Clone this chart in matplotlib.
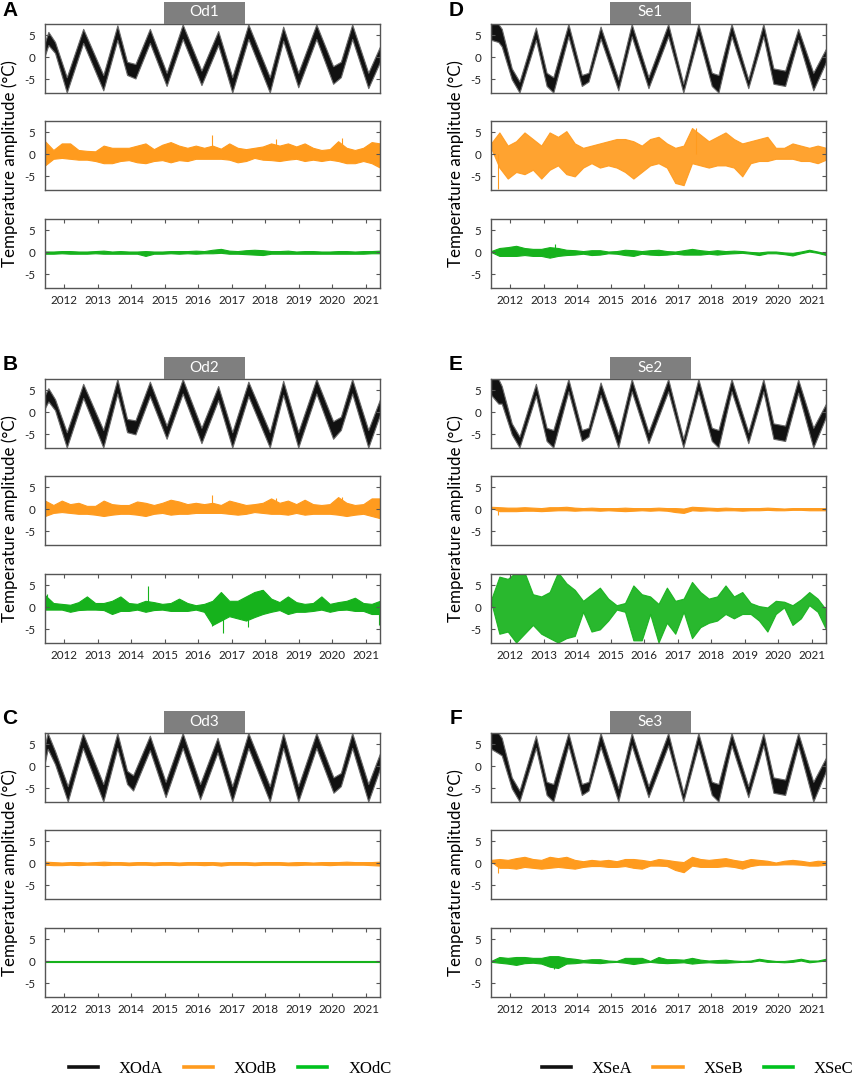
import numpy as np
import matplotlib.pyplot as plt
from matplotlib.lines import Line2D
from matplotlib.patches import Rectangle

plt.rcParams['font.family'] = ['Lato', 'DejaVu Sans']
plt.rcParams['axes.unicode_minus'] = False

BLACK = '#111111'
ORANGE = '#ff9b1e'
GREEN = '#16b21c'

years = [2012, 2013, 2014, 2015, 2016, 2017, 2018, 2019, 2020, 2021]
yticks = [-5, 0, 5]
# quarterly sample positions (decimal years) for the noisy series
t_q = np.round(2011.42 + 0.25 * np.arange(41), 2)

# ---- black series (sensor A): envelope at turning points ----
od_t1 = [2011.42, 2011.52, 2011.72, 2012.07, 2012.56, 2013.16, 2013.58, 2013.87, 2014.12, 2014.55, 2015.05, 2015.53,
         2016.09, 2016.59, 2017.01, 2017.49, 2018.13, 2018.53, 2018.98, 2019.52, 2020.02, 2020.25, 2020.59, 2021.07, 2021.42]
od1_a_hi = [3.5, 5.8, 3.5, -4.5, 6.5, -4.0, 7.3, -1.0, -1.5, 6.5, -3.5, 7.5, -3.0, 6.0, -4.5, 7.5, -4.5, 7.0, -3.5, 7.5, -2.0, -1.0, 7.5, -3.5, 2.5]
od1_a_lo = [0.5, 2.8, 1.0, -8.0, 3.3, -7.5, 4.0, -4.0, -4.8, 3.3, -6.5, 4.2, -6.3, 2.8, -8.0, 4.2, -8.0, 3.8, -6.8, 4.2, -6.0, -4.5, 4.2, -7.0, -1.0]
od2_a_hi = [4.0, 5.5, 3.0, -4.5, 6.5, -4.0, 7.6, -1.5, -1.8, 7.0, -3.0, 7.6, -3.5, 6.0, -4.5, 7.0, -4.5, 7.2, -4.5, 7.6, -2.0, -1.0, 7.6, -4.0, 3.0]
od2_a_lo = [1.0, 2.5, 0.5, -8.0, 3.3, -8.0, 4.3, -4.5, -5.0, 3.7, -6.0, 4.3, -7.0, 2.8, -8.0, 3.7, -8.0, 4.0, -8.0, 4.3, -6.0, -4.0, 4.3, -8.0, -0.5]
od_t3 = [2011.42, 2011.50, 2011.72, 2012.10, 2012.55, 2013.16, 2013.58, 2013.87, 2014.05, 2014.55, 2015.02, 2015.53,
         2016.05, 2016.57, 2017.01, 2017.49, 2018.13, 2018.53, 2018.98, 2019.52, 2020.03, 2020.25, 2020.59, 2021.07, 2021.42]
od3_a_hi = [5.0, 7.6, 3.5, -4.5, 7.6, -4.0, 7.6, -1.0, -2.0, 7.0, -3.5, 7.6, -4.0, 6.5, -4.5, 7.6, -4.5, 7.6, -4.5, 7.6, -2.5, -1.5, 7.6, -4.0, 3.0]
od3_a_lo = [1.0, 4.0, 0.5, -8.0, 4.2, -8.0, 4.2, -4.0, -5.5, 3.7, -7.0, 4.2, -7.5, 3.2, -8.0, 4.2, -8.0, 4.2, -8.0, 4.2, -6.0, -4.5, 4.2, -8.0, -0.5]

se_t = [2011.42, 2011.64, 2011.74, 2012.04, 2012.27, 2012.76, 2013.08, 2013.28, 2013.73, 2014.13, 2014.33, 2014.69, 2015.22, 2015.62,
        2016.12, 2016.71, 2017.16, 2017.61, 2018.01, 2018.21, 2018.60, 2019.10, 2019.55, 2019.85, 2020.20, 2020.59, 2021.04, 2021.42]
se1_a_hi = [7.6, 7.6, 6.5, -2.5, -5.5, 6.8, -3.5, -4.5, 7.6, -4.0, -3.5, 7.0, -5.0, 7.6, -4.5, 7.6, -6.0, 7.6, -3.5, -4.0, 7.6, -5.0, 7.6, -2.5, -3.0, 6.5, -3.5, 2.0]
se1_a_lo = [4.0, 3.5, 2.5, -5.0, -8.0, 4.0, -6.5, -8.0, 4.8, -6.5, -5.5, 4.3, -7.5, 4.8, -7.0, 4.8, -8.0, 4.8, -6.5, -8.0, 4.8, -7.0, 4.8, -6.0, -6.5, 4.0, -7.5, -1.0]
se2_a_hi = [7.6, 7.6, 6.0, -2.5, -5.5, 6.5, -3.5, -4.0, 7.6, -4.0, -3.5, 6.8, -5.0, 7.6, -4.5, 7.6, -6.0, 7.6, -3.5, -4.0, 7.6, -4.5, 7.6, -2.5, -3.0, 7.5, -3.5, 2.0]
se2_a_lo = [4.0, 2.0, 2.0, -5.0, -8.0, 3.8, -6.5, -8.0, 4.8, -6.5, -5.5, 4.0, -8.0, 4.8, -7.0, 4.8, -8.0, 4.8, -6.5, -8.0, 4.8, -7.0, 4.8, -6.0, -6.5, 4.5, -8.0, -1.0]
se3_a_hi = [7.6, 7.6, 6.5, -2.5, -5.5, 7.0, -3.5, -4.0, 7.6, -4.0, -3.5, 7.6, -5.0, 7.6, -4.5, 7.6, -6.0, 7.6, -3.5, -4.0, 7.6, -4.5, 7.6, -2.5, -3.0, 7.6, -3.5, 2.0]
se3_a_lo = [4.0, 3.0, 2.5, -5.0, -8.0, 4.2, -6.5, -8.0, 4.8, -6.5, -5.5, 4.5, -8.0, 4.8, -7.0, 4.8, -8.0, 4.8, -6.5, -8.0, 4.8, -7.0, 4.8, -6.0, -6.5, 4.8, -8.0, -1.0]

# ---- orange series (sensor B), quarterly envelope ----
od1_b_hi = [3.0, 1.0, 2.5, 2.5, 1.0, 0.8, 0.7, 2.0, 1.5, 1.5, 1.5, 2.0, 2.5, 1.2, 2.2, 2.8, 2.0, 1.5, 2.0, 1.5, 2.0,
            1.3, 2.5, 1.5, 1.2, 1.5, 1.8, 2.5, 2.0, 2.5, 1.8, 2.5, 1.5, 1.0, 1.2, 3.0, 1.5, 1.0, 1.5, 2.8, 2.5]
od1_b_lo = [-2.5, -1.0, -0.8, -1.0, -1.2, -1.2, -1.5, -2.0, -2.0, -1.5, -1.3, -1.8, -2.0, -1.5, -1.3, -1.8, -1.3, -1.5, -1.0, -1.0, -1.0,
            -1.0, -1.2, -1.8, -1.5, -0.8, -1.2, -1.3, -1.5, -1.2, -1.0, -1.5, -1.2, -1.5, -1.2, -1.5, -2.0, -2.0, -1.5, -2.0, -3.0]
od2_b_hi = [2.0, 1.0, 2.0, 1.2, 1.5, 0.8, 0.8, 2.0, 1.2, 1.0, 1.0, 1.8, 1.5, 1.0, 1.5, 2.2, 1.8, 1.2, 1.5, 1.2, 1.5,
            1.0, 2.0, 1.5, 1.0, 1.2, 1.5, 2.5, 1.5, 2.0, 1.2, 2.2, 1.2, 1.0, 1.2, 2.8, 1.5, 1.0, 1.2, 2.5, 2.5]
od2_b_lo = [-1.5, -0.8, -0.6, -0.8, -1.0, -1.0, -1.2, -1.5, -1.2, -1.0, -1.0, -1.2, -1.5, -1.0, -0.8, -1.2, -1.0, -1.0, -0.8, -0.8, -0.8,
            -0.8, -1.0, -1.2, -1.0, -0.6, -0.8, -1.0, -1.0, -1.2, -0.8, -1.2, -1.0, -1.0, -1.0, -1.2, -1.5, -1.2, -1.0, -1.5, -2.0]
od3_b_hi = [0.4, 0.3, 0.2, 0.3, 0.3, 0.2, 0.3, 0.4, 0.3, 0.3, 0.2, 0.3, 0.3, 0.2, 0.3, 0.3, 0.2, 0.3, 0.3, 0.3, 0.3,
            0.2, 0.3, 0.3, 0.3, 0.2, 0.3, 0.3, 0.3, 0.2, 0.3, 0.3, 0.2, 0.3, 0.3, 0.3, 0.4, 0.3, 0.3, 0.3, 0.4]
od3_b_lo = [-0.3, -0.4, -0.4, -0.3, -0.4, -0.3, -0.3, -0.4, -0.3, -0.3, -0.4, -0.3, -0.3, -0.4, -0.3, -0.3, -0.4, -0.3, -0.3, -0.4, -0.3,
            -0.5, -0.3, -0.3, -0.3, -0.4, -0.3, -0.3, -0.3, -0.4, -0.4, -0.3, -0.3, -0.3, -0.4, -0.3, -0.3, -0.3, -0.3, -0.4, -0.5]
se1_b_hi = [2.5, 5.0, 2.0, 3.0, 5.0, 3.5, 2.0, 5.0, 4.0, 5.3, 2.5, 1.5, 2.0, 2.5, 3.0, 3.5, 3.5, 3.0, 2.0, 3.5, 4.0,
            2.5, 1.5, 2.0, 6.0, 4.5, 3.0, 4.0, 5.0, 3.5, 2.5, 3.0, 3.5, 4.0, 1.5, 1.5, 2.5, 2.0, 1.5, 2.0, 1.5]
se1_b_lo = [1.5, -3.0, -5.5, -4.0, -4.5, -3.5, -5.5, -3.5, -2.5, -4.5, -5.0, -3.0, -2.0, -3.0, -2.5, -3.0, -4.0, -5.5, -4.0, -2.5, -2.0,
            -3.0, -6.5, -7.0, -2.0, -2.5, -3.0, -2.5, -2.5, -3.0, -5.0, -2.0, -1.5, -1.5, -1.0, -1.0, -1.0, -1.5, -1.5, -2.0, -1.2]
se2_b_hi = [0.6, 0.5, 0.4, 0.4, 0.5, 0.4, 0.3, 0.5, 0.5, 0.6, 0.4, 0.3, 0.4, 0.3, 0.3, 0.3, 0.4, 0.3, 0.3, 0.3, 0.4,
            0.3, 0.3, 0.2, 0.6, 0.5, 0.4, 0.3, 0.4, 0.3, 0.3, 0.3, 0.3, 0.4, 0.3, 0.2, 0.3, 0.3, 0.3, 0.3, 0.3]
se2_b_lo = [0.4, -0.4, -0.4, -0.4, -0.3, -0.3, -0.4, -0.3, -0.2, -0.2, -0.3, -0.2, -0.2, -0.3, -0.2, -0.3, -0.4, -0.3, -0.2, -0.3, -0.2,
            -0.3, -0.6, -0.8, -0.2, -0.3, -0.2, -0.3, -0.2, -0.2, -0.3, -0.2, -0.2, -0.1, -0.2, -0.2, -0.1, -0.1, -0.2, -0.2, -0.2]
se3_b_hi = [0.8, 1.0, 0.8, 1.2, 1.5, 1.0, 0.8, 1.5, 1.2, 1.5, 0.8, 0.5, 0.8, 0.6, 0.8, 0.5, 1.0, 1.0, 0.8, 0.5, 1.0,
            0.8, 0.5, 0.3, 1.5, 1.0, 0.8, 1.0, 1.2, 0.8, 0.5, 1.0, 0.8, 0.6, 0.2, 0.6, 0.8, 0.6, 0.3, 0.6, 0.5]
se3_b_lo = [0.4, -1.0, -1.0, -1.2, -0.8, -1.0, -1.2, -1.0, -0.8, -1.0, -1.2, -0.8, -0.6, -0.6, -0.8, -0.8, -0.6, -1.0, -1.2, -0.5, -0.5,
            -0.6, -1.5, -2.0, -0.5, -0.8, -0.8, -0.8, -0.6, -0.8, -1.2, -0.6, -0.3, -0.3, -0.3, -0.2, -0.2, -0.3, -0.5, -0.5, -0.3]

# ---- green series (sensor C), quarterly envelope ----
od1_c_hi = [0.2, 0.2, 0.3, 0.3, 0.2, 0.2, 0.3, 0.4, 0.2, 0.3, 0.2, 0.2, 0.3, 0.2, 0.2, 0.3, 0.3, 0.3, 0.4, 0.3, 0.6,
            0.8, 0.4, 0.3, 0.5, 0.6, 0.5, 0.3, 0.3, 0.4, 0.2, 0.3, 0.3, 0.2, 0.2, 0.3, 0.3, 0.2, 0.3, 0.3, 0.4]
od1_c_lo = [-0.3, -0.3, -0.2, -0.3, -0.3, -0.3, -0.2, -0.3, -0.3, -0.3, -0.3, -0.3, -0.8, -0.3, -0.3, -0.2, -0.3, -0.2, -0.3, -0.2, -0.2,
            -0.1, -0.3, -0.3, -0.4, -0.5, -0.6, -0.3, -0.3, -0.3, -0.3, -0.3, -0.3, -0.3, -0.3, -0.3, -0.3, -0.3, -0.3, -0.2, -0.2]
od2_c_hi = [2.8, 1.0, 0.8, 0.6, 1.2, 2.5, 1.0, 1.0, 1.5, 2.5, 1.0, 0.8, 1.5, 1.2, 0.8, 1.0, 2.0, 1.0, 0.5, 0.8, 1.5,
            3.5, 1.5, 1.5, 2.5, 3.5, 4.0, 2.0, 1.2, 2.5, 1.2, 0.8, 1.0, 2.5, 0.8, 1.2, 1.5, 2.2, 1.0, 0.8, 1.5]
od2_c_lo = [-0.5, -0.5, -0.5, -1.0, -0.6, -0.5, -0.5, -0.6, -1.5, -0.8, -0.8, -0.5, -1.0, -0.6, -0.5, -0.8, -0.8, -0.8, -0.5, -1.0, -4.0,
            -3.0, -2.0, -2.5, -3.0, -2.2, -1.5, -1.0, -0.6, -1.5, -1.0, -1.0, -0.8, -0.5, -1.0, -0.6, -0.5, -0.8, -0.8, -1.5, -1.5]
od3_c_hi = [0.1, 0.1, 0.1, 0.1, 0.1, 0.1, 0.1, 0.1, 0.1, 0.1, 0.1, 0.1, 0.1, 0.1, 0.1, 0.1, 0.1, 0.1, 0.1, 0.1, 0.1,
            0.1, 0.1, 0.1, 0.1, 0.1, 0.1, 0.1, 0.1, 0.1, 0.1, 0.1, 0.1, 0.1, 0.1, 0.1, 0.1, 0.1, 0.1, 0.1, 0.1]
od3_c_lo = [-0.1, -0.1, -0.1, -0.1, -0.1, -0.1, -0.1, -0.1, -0.1, -0.1, -0.1, -0.1, -0.1, -0.1, -0.1, -0.1, -0.1, -0.1, -0.1, -0.1, -0.1,
            -0.1, -0.1, -0.1, -0.1, -0.1, -0.1, -0.1, -0.1, -0.1, -0.1, -0.1, -0.1, -0.1, -0.1, -0.1, -0.1, -0.1, -0.1, -0.1, -0.1]
se1_c_hi = [0.3, 1.0, 1.2, 1.5, 1.0, 0.8, 0.8, 1.2, 1.0, 0.6, 0.5, 0.3, 0.5, 0.5, 0.2, 0.3, 0.6, 0.5, 0.3, 0.5, 0.6,
            0.3, 0.2, 0.5, 0.8, 0.5, 0.3, 0.5, 0.3, 0.4, 0.3, 0.1, 0.0, 0.2, 0.2, 0.0, -0.1, 0.2, 0.6, 0.2, -0.2]
se1_c_lo = [0.1, -0.8, -0.8, -0.8, -0.6, -0.8, -0.8, -1.2, -0.8, -0.6, -0.5, -0.3, -0.6, -0.5, -0.2, -0.3, -0.6, -0.8, -0.3, -0.5, -0.6,
            -0.5, -0.3, -0.5, -0.5, -0.5, -0.3, -0.5, -0.3, -0.2, -0.1, -0.3, -0.6, -0.2, -0.2, -0.4, -0.7, -0.2, 0.2, -0.1, -0.6]
se2_c_hi = [1.7, 7.0, 6.5, 8.0, 8.0, 3.0, 2.5, 3.5, 8.0, 5.5, 4.0, 1.5, 3.0, 4.5, 2.0, 0.5, 1.0, 5.0, 3.0, 2.5, 0.8,
            4.5, 1.5, 2.0, 5.8, 3.5, 2.0, 2.5, 5.0, 2.5, 3.5, 1.0, 0.3, 0.0, 1.5, 1.3, 0.5, 1.8, 3.5, 2.0, -0.5]
se2_c_lo = [1.3, -6.0, -5.5, -8.0, -6.0, -4.0, -6.0, -7.0, -8.0, -7.0, -6.5, -1.0, -5.5, -5.0, -3.0, -0.5, -1.0, -7.5, -7.5, -1.5, -8.0,
            -3.5, -6.0, -1.0, -7.0, -4.5, -3.5, -3.0, -1.5, -2.5, -1.5, -1.5, -3.0, -5.5, -1.5, 0.0, -4.0, -2.5, 0.5, -1.0, -5.0]
se3_c_hi = [0.1, 1.0, 0.8, 1.0, 1.0, 0.8, 0.8, 1.2, 1.2, 0.8, 0.6, 0.3, 0.5, 0.5, 0.2, 0.1, 0.8, 0.8, 0.8, 0.1, 1.0,
            0.5, 0.5, 0.4, 0.8, 0.4, 0.2, 0.3, 0.4, 0.2, 0.1, 0.2, 0.6, 0.3, 0.1, 0.1, 0.3, 0.6, 0.2, 0.2, 0.6]
se3_c_lo = [-0.1, -0.3, -0.5, -0.8, -0.4, -0.3, -0.5, -1.2, -1.5, -0.5, -0.4, -0.2, -0.3, -0.4, -0.2, -0.1, -0.3, -0.6, -0.3, -0.1, -0.3,
            -0.4, -0.3, -0.2, -0.5, -0.3, -0.2, -0.3, -0.3, -0.2, -0.1, -0.1, 0.2, -0.1, -0.1, -0.2, -0.1, 0.2, -0.2, 0.0, 0.2]

# isolated spikes (time, value)
od1_b_spk = [(2016.41, 4.5), (2018.31, 3.6), (2020.29, 3.8)]
od2_b_spk = [(2016.41, 3.3), (2018.31, 2.6), (2020.29, 2.8)]
od2_c_spk = [(2011.47, 3.0), (2014.49, 4.8), (2016.40, -4.2), (2016.72, -5.8), (2017.47, -4.5), (2017.87, 4.0), (2021.40, -4.0)]
se1_b_spk = [(2011.64, -7.8), (2017.55, 6.0)]
se1_c_spk = [(2013.33, 2.0)]
se2_b_spk = [(2011.64, -1.2)]
se3_b_spk = [(2011.64, -2.2)]
se3_c_spk = [(2013.30, -1.8)]

# letter, title, column, row, A, B (+alpha), C (+alpha)
panels = [
    ('A', 'Od1', 0, 0, (od_t1, od1_a_hi, od1_a_lo), (od1_b_hi, od1_b_lo, od1_b_spk, 1.0), (od1_c_hi, od1_c_lo, [], 1.0)),
    ('B', 'Od2', 0, 1, (od_t1, od2_a_hi, od2_a_lo), (od2_b_hi, od2_b_lo, od2_b_spk, 1.0), (od2_c_hi, od2_c_lo, od2_c_spk, 1.0)),
    ('C', 'Od3', 0, 2, (od_t3, od3_a_hi, od3_a_lo), (od3_b_hi, od3_b_lo, [], 1.0), (od3_c_hi, od3_c_lo, [], 1.0)),
    ('D', 'Se1', 1, 0, (se_t, se1_a_hi, se1_a_lo), (se1_b_hi, se1_b_lo, se1_b_spk, 0.92), (se1_c_hi, se1_c_lo, se1_c_spk, 1.0)),
    ('E', 'Se2', 1, 1, (se_t, se2_a_hi, se2_a_lo), (se2_b_hi, se2_b_lo, se2_b_spk, 1.0), (se2_c_hi, se2_c_lo, [], 0.92)),
    ('F', 'Se3', 1, 2, (se_t, se3_a_hi, se3_a_lo), (se3_b_hi, se3_b_lo, se3_b_spk, 1.0), (se3_c_hi, se3_c_lo, se3_c_spk, 1.0)),
]

W, H = 858, 1075
fig = plt.figure(figsize=(W / 100, H / 100), dpi=100)

col_x = [45, 491]
row_top = [24, 379, 733]
sub_off = [0, 97, 195]
ax_w, ax_h = 335, 69


def px_axes(x, y, w, h):
    return fig.add_axes([x / W, 1 - (y + h) / H, w / W, h / H])


def style(ax, bottom):
    ax.set_xlim(2011.42, 2021.42)
    ax.set_ylim(-8.1, 7.6)
    ax.set_yticks(yticks)
    ax.set_yticklabels([str(v) for v in yticks])
    ax.tick_params(axis='y', direction='in', length=3, width=0.8, color='#555555',
                   labelsize=8.4, pad=7, right=True, labelcolor='#222222')
    if bottom:
        ax.set_xticks(years)
        ax.set_xticklabels([str(y) for y in years])
        ax.tick_params(axis='x', direction='in', length=3, width=0.8, color='#555555',
                       labelsize=8.4, pad=5, top=True, labelcolor='#222222')
    else:
        ax.set_xticks([])
    for s in ax.spines.values():
        s.set_color('#555555')
        s.set_linewidth(1.0)


def band(ax, t, hi, lo, color, spikes, alpha=1.0, edge=None):
    ax.fill_between(t, lo, hi, facecolor=color, linewidth=0.8,
                    edgecolor=edge or color, alpha=alpha)
    if spikes:
        st = [s[0] for s in spikes]
        sv = [s[1] for s in spikes]
        ax.vlines(st, 0, sv, color=color, linewidth=0.8)


for letter, name, c, r, a, b, g in panels:
    x0 = col_x[c]
    top = row_top[r]
    axs = [px_axes(x0, top + off, ax_w, ax_h) for off in sub_off]
    band(axs[0], a[0], a[1], a[2], BLACK, [], edge='#6a6a6a')
    band(axs[1], t_q, b[0], b[1], ORANGE, b[2], b[3])
    band(axs[2], t_q, g[0], g[1], GREEN, g[2], g[3])
    for i, ax in enumerate(axs):
        style(ax, i == 2)

    # grey title tab
    bx = x0 + 119
    fig.add_artist(Rectangle((bx / W, 1 - top / H), 81 / W, 22 / H, transform=fig.transFigure,
                             facecolor='#7f7f7f', edgecolor='none'))
    fig.text((bx + 40.5) / W, 1 - (top - 11.5) / H, name, color='white', fontsize=11,
             ha='center', va='center')
    fig.text((x0 - 35) / W, 1 - (top - 14) / H, letter, fontsize=15, fontweight='bold',
             family='Liberation Sans', ha='center', va='center')
    fig.text((x0 - 35) / W, 1 - (top + 140) / H, 'Temperature amplitude (°C)', rotation=90,
             fontsize=12.2, ha='center', va='center')

legend_sets = [(69, ['XOdA', 'XOdB', 'XOdC']), (542, ['XSeA', 'XSeB', 'XSeC'])]
for lx, labels in legend_sets:
    handles = [Line2D([], [], color=col, linewidth=2.6) for col in (BLACK, ORANGE, '#00c21e')]
    fig.legend(handles, labels, loc='center left', bbox_to_anchor=(lx / W, 1 - 1069 / H),
               frameon=False, ncol=3, borderpad=0, borderaxespad=0, handlelength=1.75,
               handletextpad=1.25, columnspacing=1.25,
               prop={'family': 'Liberation Serif', 'size': 12})

fig.savefig('out.png', dpi=100)
